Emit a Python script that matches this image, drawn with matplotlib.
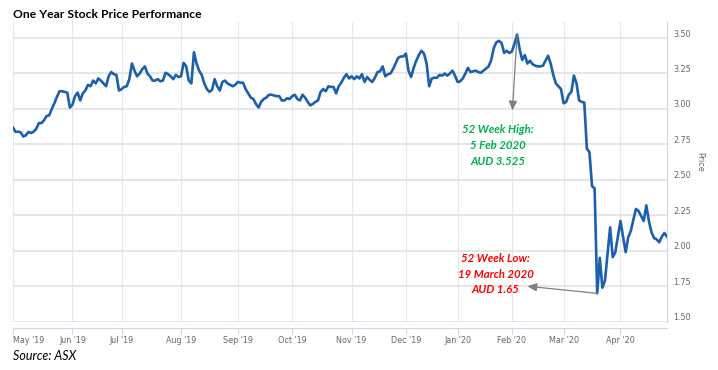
import numpy as np
import pandas as pd
import matplotlib
matplotlib.use("Agg")
import matplotlib.pyplot as plt
import matplotlib.transforms as mtransforms

# daily closing prices (AUD), one value per ASX trading day, by month
may_19 = [2.868, 2.838, 2.84, 2.835, 2.805, 2.815, 2.838, 2.83, 2.84, 2.86, 2.90, 2.90,
          2.92, 2.95, 2.955, 3.00, 3.04, 3.085, 3.125, 3.125, 3.12, 3.115, 3.01]
jun_19 = [3.03, 3.09, 3.115, 3.06, 3.11, 3.13, 3.17, 3.16, 3.20, 3.18, 3.215, 3.20,
          3.18, 3.16, 3.23, 3.26, 3.245, 3.24, 3.13]
jul_19 = [3.14, 3.155, 3.16, 3.21, 3.32, 3.27, 3.23, 3.25, 3.28, 3.30, 3.25, 3.23,
          3.20, 3.20, 3.21, 3.195, 3.20, 3.255, 3.245, 3.23, 3.21, 3.24, 3.225]
aug_19 = [3.23, 3.325, 3.30, 3.20, 3.18, 3.40, 3.32, 3.27, 3.24, 3.18, 3.14, 3.12,
          3.135, 3.21, 3.16, 3.13, 3.19, 3.20, 3.18, 3.17, 3.16, 3.17]
sep_19 = [3.19, 3.185, 3.185, 3.14, 3.11, 3.08, 3.07, 3.035, 3.01, 3.05, 3.07, 3.08,
          3.10, 3.10, 3.095, 3.09, 3.09, 3.06, 3.06, 3.075, 3.07]
oct_19 = [3.09, 3.10, 3.07, 3.06, 3.10, 3.08, 3.05, 3.025, 3.035, 3.05, 3.06, 3.12,
          3.14, 3.125, 3.16, 3.155, 3.155, 3.11, 3.16, 3.185, 3.22, 3.245, 3.215]
nov_19 = [3.23, 3.21, 3.23, 3.215, 3.245, 3.19, 3.225, 3.205, 3.19, 3.22, 3.26, 3.265,
          3.30, 3.23, 3.245, 3.25, 3.28, 3.32, 3.36, 3.37, 3.37]
dec_19 = [3.39, 3.27, 3.225, 3.29, 3.34, 3.38, 3.41, 3.39, 3.32, 3.16, 3.215, 3.22,
          3.22, 3.24, 3.235, 3.25, 3.235, 3.25, 3.27, 3.235]
jan_20 = [3.19, 3.195, 3.215, 3.25, 3.29, 3.26, 3.265, 3.27, 3.26, 3.255, 3.27, 3.285,
          3.30, 3.345, 3.43, 3.47, 3.48, 3.465, 3.395, 3.41, 3.395]
feb_20 = [3.405, 3.46, 3.525, 3.42, 3.345, 3.38, 3.32, 3.34, 3.315, 3.305, 3.30, 3.30,
          3.305, 3.34, 3.375, 3.32, 3.24, 3.18, 3.16, 3.14]
mar_20 = [3.04, 3.05, 3.10, 3.12, 3.235, 3.18, 3.06, 3.05, 3.045, 2.72, 2.695, 2.455,
          2.44, 1.70, 1.95, 1.74, 1.79, 1.98, 2.165, 1.955, 1.99, 2.10]
apr_20 = [2.21, 2.10, 1.99, 2.095, 2.14, 2.22, 2.295, 2.28, 2.245, 2.21, 2.32, 2.21,
          2.13, 2.09, 2.08, 2.06, 2.10, 2.125, 2.10]

# ASX closed days inside the range
holidays = ["2019-06-10", "2019-12-25", "2019-12-26", "2020-01-01",
            "2020-01-27", "2020-04-10", "2020-04-13"]
price_ticks = [1.50, 1.75, 2.00, 2.25, 2.50, 2.75, 3.00, 3.25, 3.50]

high_date, high_price = "2020-02-05", 3.525
low_date, low_price = "2020-03-19", 1.65

close = np.array(may_19 + jun_19 + jul_19 + aug_19 + sep_19 + oct_19 +
                 nov_19 + dec_19 + jan_20 + feb_20 + mar_20 + apr_20)
days = pd.bdate_range("2019-05-01", "2020-04-29")
days = days[~days.isin(pd.to_datetime(holidays))]
pos = np.arange(len(days))

# ordinal axis: one slot per trading day, ticks on the first day of each month
mkey = days.to_period("M")
first = np.r_[True, mkey[1:] != mkey[:-1]]
tick_pos = pos[first]
tick_lab = [d.strftime("%b '%y") for d in days[first]]

i_high = days.get_loc(pd.Timestamp(high_date))
i_low = days.get_loc(pd.Timestamp(low_date))

W, H = 718, 370
fig = plt.figure(figsize=(W / 100, H / 100), dpi=100)
ax = fig.add_axes([13 / W, 48.3 / H, 654 / W, 299.7 / H])

ax.plot(pos, close, color="#1c5fad", lw=1.9, solid_joinstyle="round", zorder=3)

ax.set_xlim(0, len(pos) - 1)
ax.set_ylim(1.5, 3.613)
ax.set_xticks(tick_pos)
ax.set_xticklabels(tick_lab)
ax.set_yticks(price_ticks)
ax.set_yticklabels(["%.2f" % v for v in price_ticks])

ax.set_axisbelow(True)
ax.grid(axis="y", color="#e2e2e2", lw=1.2)
ax.grid(axis="x", color="#e8e8e8", lw=0.9)

for s in ["left", "top"]:
    ax.spines[s].set_visible(False)
ax.spines["right"].set_color("#ccd6eb")
ax.spines["bottom"].set_color("#ccd6eb")
ax.spines["bottom"].set_position(("outward", 4.3))

ax.yaxis.tick_right()
ax.tick_params(axis="y", length=0, pad=4.3, labelsize=5.8, labelcolor="#666666")
ax.tick_params(axis="x", length=4.3, width=0.8, color="#ccd6eb", pad=1.5,
               labelsize=5.8, labelcolor="#666666")
ax.get_xticklabels()[0].set_horizontalalignment("left")

# price labels sit a little above their grid lines
up = mtransforms.ScaledTranslation(0, 5 / 100, fig.dpi_scale_trans)
for t in ax.yaxis.get_major_ticks():
    t.label2.set_transform(t.label2.get_transform() + up)

fig.text(700 / W, 1 - 162 / H, "Price", rotation=-90, ha="center", va="center",
         color="#666666", fontsize=5.8)

fig.text(13 / W, 1 - 14 / H, "One Year Stock Price Performance", family="Lato",
         fontweight="bold", fontsize=8.7, va="center", ha="left")
fig.text(13 / W, 1 - 356 / H, "Source: ASX", family="Lato", style="italic",
         fontsize=9, va="center", ha="left")

arrow = dict(arrowstyle="-|>,head_length=0.55,head_width=0.25", color="#7f7f7f",
             lw=0.9, shrinkA=0, shrinkB=0)
ax.annotate("", xy=(i_high - 1.8, 2.99), xytext=(i_high, close[i_high]),
            arrowprops=arrow, zorder=4)
ax.annotate("", xy=(i_low - 27, 1.75), xytext=(i_low, close[i_low]),
            arrowprops=arrow, zorder=4)

ax.text(i_high - 7.5, 2.745, "52 Week High:\n%s\nAUD %.3f" % (
            pd.Timestamp(high_date).strftime("%-d %b %Y"), high_price),
        ha="center", va="center", color="#00b050", family="Lato",
        fontweight="bold", style="italic", fontsize=8.2, linespacing=1.55)
ax.text(i_low - 39.2, 1.836, "52 Week Low:\n%s\nAUD %.2f" % (
            pd.Timestamp(low_date).strftime("%-d %B %Y"), low_price),
        ha="center", va="center", color="#ff0000", family="Lato",
        fontweight="bold", style="italic", fontsize=8.2, linespacing=1.55)

fig.savefig("out.png", dpi=100, facecolor="white")
